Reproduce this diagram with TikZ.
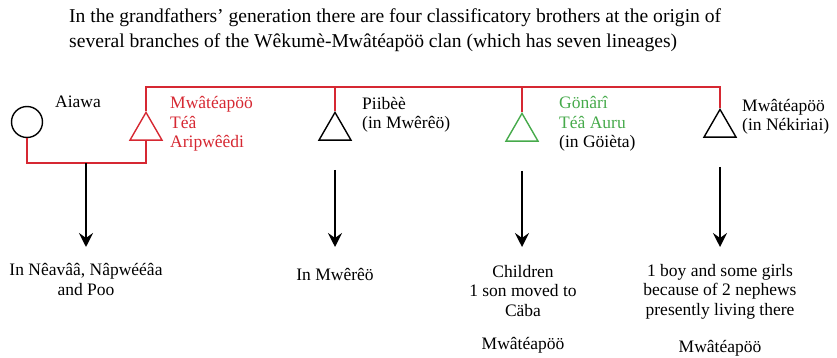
\documentclass[tikz,border=0pt]{standalone}
\usepackage{fontspec}
\setmainfont{Liberation Serif}
\usetikzlibrary{arrows.meta,shapes.geometric}
\definecolor{kinred}{RGB}{214,40,50}
\definecolor{kingreen}{RGB}{70,170,75}
\begin{document}
\begin{tikzpicture}[x=1pt, y=-1pt,
  every node/.style={font=\fontsize{17.5}{19.5}\selectfont, inner sep=0pt},
  male/.style={draw, regular polygon, regular polygon sides=3, minimum size=37pt, line width=1.4pt, anchor=corner 1},
  female/.style={draw, circle, minimum size=31pt, line width=1.4pt},
  tie/.style={kinred, line width=1.3pt},
  descent/.style={line width=2.6pt, -{Stealth[length=14pt,width=14pt,inset=5pt]}},
  lbl/.style={anchor=base west, align=left},
  offspring/.style={anchor=base, align=center}]
  \useasboundingbox (0,0) rectangle (837,358);
  \node[anchor=base west, align=left, font=\fontsize{19.6}{25}\selectfont] (title) at (69,48)
    {In the grandfathers' generation there are four classificatory brothers at the origin of\\several branches of the Wêkumè-Mwâtéapöö clan (which has seven lineages)};
  \node[female] (aia) at (27,122) {};
  \node[male, kinred] (mwa) at (146,111) {};
  \node[male] (pii) at (335,111) {};
  \node[male, kingreen] (gon) at (522,112) {};
  \node[male] (nek) at (720,108) {};
  \coordinate (top) at (0,87);
  \coordinate (wed) at (86,163);
  \coordinate (tip) at (0,247);
  \draw[tie] (mwa.corner 1) -- (mwa.corner 1 |- top) -| (nek.corner 1);
  \draw[tie] (pii.corner 1) -- (pii.corner 1 |- top);
  \draw[tie] (gon.corner 1) -- (gon.corner 1 |- top);
  \draw[tie] (aia.south) |- (wed) -| (mwa.south);
  \node[lbl] (l0) at (55,108) {Aiawa};
  \node[lbl, kinred] (l1) at (170,148) {Mwâtéapöö\\Téâ\\Aripwêêdi};
  \node[lbl] (l2) at (362,129) {Piibèè\\(in Mwêrêö)};
  \node[lbl] (l3) at (559,148) {\textcolor{kingreen}{Gönârî}\\\textcolor{kingreen}{Téâ Auru}\\(in Göièta)};
  \node[lbl] (l4) at (742,131) {Mwâtéapöö\\(in Nékiriai)};
  \draw[descent] (wed) -- (wed |- tip);
  \draw[descent, shorten <=29pt] (pii.south) -- (pii.south |- tip);
  \draw[descent, shorten <=29pt] (gon.south) -- (gon.south |- tip);
  \draw[descent, shorten <=29pt] (nek.south) -- (nek.south |- tip);
  \node[offspring] (n1) at (86,295) {In Nêavââ, Nâpwééâa\\and Poo};
  \node[offspring] (n2) at (335,280) {In Mwêrêö};
  \node[offspring] (n3) at (523,316) {Children\\1 son moved to\\Cäba};
  \node[offspring] (n3b) at (523,349) {Mwâtéapöö};
  \node[offspring] (n4) at (720,315) {1 boy and some girls\\because of 2 nephews\\presently living there};
  \node[offspring] (n4b) at (720,352) {Mwâtéapöö};
\end{tikzpicture}
\end{document}
